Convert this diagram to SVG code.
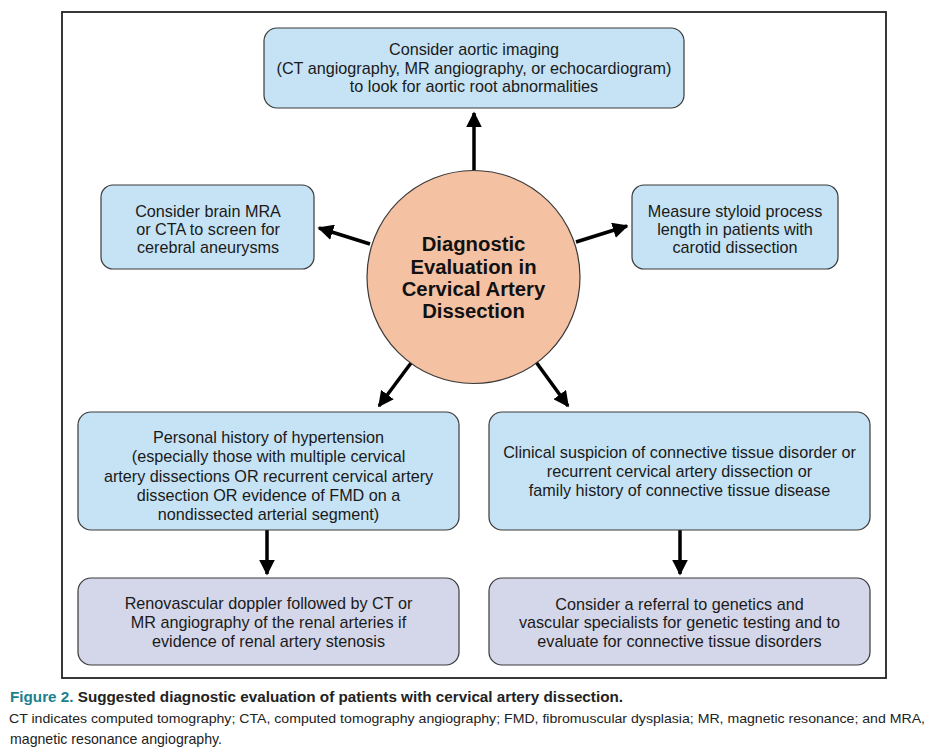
<svg xmlns="http://www.w3.org/2000/svg" width="939" height="750" viewBox="0 0 939 750">
<defs>
<style>
.box{fill:#c6e3f5;stroke:#3a3a3a;stroke-width:1.2}
.box2{fill:#d4d7e9;stroke:#3a3a3a;stroke-width:1.2}
.t{font-family:"Liberation Sans",Arial,sans-serif;font-size:16.2px;fill:#1a1a1a;text-anchor:middle}
.c{font-family:"Liberation Sans",Arial,sans-serif;font-size:20.3px;font-weight:bold;fill:#111;text-anchor:middle}
.cap{font-family:"Liberation Sans Narrow","Liberation Sans",Arial,sans-serif;font-size:14.5px;fill:#222}
.arr{stroke:#000;stroke-width:3.5;fill:none;marker-end:url(#ah)}
</style>
<marker id="ah" viewBox="0 0 10 10" refX="9" refY="5" markerWidth="4.5" markerHeight="4.5" orient="auto" markerUnits="strokeWidth">
<path d="M0,0 L10,5 L0,10 z" fill="#000"/>
</marker>
</defs>
<rect width="939" height="750" fill="#fff"/>
<rect x="62" y="12" width="824" height="666" fill="none" stroke="#222" stroke-width="1.8"/>

<g id="connectors">
<line class="arr" x1="474" y1="170" x2="474" y2="113"/>
<line class="arr" x1="370" y1="244" x2="319" y2="228"/>
<line class="arr" x1="576" y1="242" x2="627" y2="226"/>
<line class="arr" x1="411" y1="363" x2="379" y2="406"/>
<line class="arr" x1="536" y1="362" x2="568" y2="406"/>
<line class="arr" x1="267" y1="530" x2="267" y2="574"/>
<line class="arr" x1="680" y1="530" x2="680" y2="574"/>
</g>

<g id="center">
<circle cx="473.5" cy="277" r="106.5" fill="#f4c1a3" stroke="#3a3a3a" stroke-width="1.2"/>
<text class="c" x="473.5" y="251">Diagnostic</text>
<text class="c" x="473.5" y="274">Evaluation in</text>
<text class="c" x="473.5" y="296">Cervical Artery</text>
<text class="c" x="473.5" y="318">Dissection</text>
</g>

<g id="aortic">
<rect class="box" x="264" y="28" width="420" height="80" rx="13"/>
<text class="t" x="474" y="55">Consider aortic imaging</text>
<text class="t" x="474" y="74">(CT angiography, MR angiography, or echocardiogram)</text>
<text class="t" x="474" y="92">to look for aortic root abnormalities</text>
</g>

<g id="brain">
<rect class="box" x="101" y="185" width="213" height="84" rx="12"/>
<text class="t" x="208" y="217">Consider brain MRA</text>
<text class="t" x="208" y="235">or CTA to screen for</text>
<text class="t" x="208" y="253">cerebral aneurysms</text>
</g>

<g id="styloid">
<rect class="box" x="632" y="185" width="206" height="84" rx="12"/>
<text class="t" x="735" y="217">Measure styloid process</text>
<text class="t" x="735" y="235">length in patients with</text>
<text class="t" x="735" y="253">carotid dissection</text>
</g>

<g id="hypertension">
<rect class="box" x="78" y="412" width="381" height="118" rx="13"/>
<text class="t" x="268.5" y="443">Personal history of hypertension</text>
<text class="t" x="268.5" y="462">(especially those with multiple cervical</text>
<text class="t" x="268.5" y="482">artery dissections OR recurrent cervical artery</text>
<text class="t" x="268.5" y="501">dissection OR evidence of FMD on a</text>
<text class="t" x="268.5" y="520">nondissected arterial segment)</text>
</g>

<g id="connective">
<rect class="box" x="489" y="412" width="381" height="118" rx="13"/>
<text class="t" x="679.5" y="458">Clinical suspicion of connective tissue disorder or</text>
<text class="t" x="679.5" y="477">recurrent cervical artery dissection or</text>
<text class="t" x="679.5" y="496">family history of connective tissue disease</text>
</g>

<g id="renal">
<rect class="box2" x="78" y="578" width="381" height="87" rx="13"/>
<text class="t" x="268.5" y="609">Renovascular doppler followed by CT or</text>
<text class="t" x="268.5" y="628">MR angiography of the renal arteries if</text>
<text class="t" x="268.5" y="647">evidence of renal artery stenosis</text>
</g>

<g id="genetics">
<rect class="box2" x="489" y="578" width="381" height="87" rx="13"/>
<text class="t" x="679.5" y="610">Consider a referral to genetics and</text>
<text class="t" x="679.5" y="628">vascular specialists for genetic testing and to</text>
<text class="t" x="679.5" y="647">evaluate for connective tissue disorders</text>
</g>

<g id="caption">
<text class="cap" x="10" y="702" font-weight="bold" textLength="613" lengthAdjust="spacingAndGlyphs"><tspan fill="#1b7f8e">Figure 2.</tspan> Suggested diagnostic evaluation of patients with cervical artery dissection.</text>
<text class="cap" x="9" y="723" style="font-size:13px" textLength="916" lengthAdjust="spacingAndGlyphs">CT indicates computed tomography; CTA, computed tomography angiography; FMD, fibromuscular dysplasia; MR, magnetic resonance; and MRA,</text>
<text class="cap" x="10" y="744" textLength="212" lengthAdjust="spacingAndGlyphs">magnetic resonance angiography.</text>
</g>
</svg>
